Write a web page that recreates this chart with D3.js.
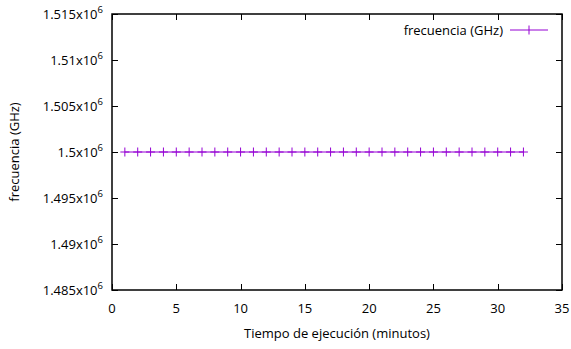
<!DOCTYPE html>
<html>
<head>
<meta charset="utf-8">
<script src="https://cdn.jsdelivr.net/npm/d3@7"></script>
<style>
  body { margin: 0; background: #fff; }
  text { font-family: "Open Sans", "Noto Sans", sans-serif; font-size: 13px; fill: #000; }
</style>
</head>
<body>
<svg width="571" height="349"></svg>
<script>
const minutes = d3.range(1, 33);
const freq = minutes.map(() => 1.5e6);
const xTicks = [0, 5, 10, 15, 20, 25, 30, 35];
const yTicks = [1.485e6, 1.49e6, 1.495e6, 1.5e6, 1.505e6, 1.51e6, 1.515e6];
const seriesName = 'frecuencia (GHz)';

const svg = d3.select('svg');
const width = +svg.attr('width');
const height = +svg.attr('height');
const margin = {top: 14, right: 9, bottom: 59, left: 112};
const innerWidth = width - margin.left - margin.right;
const innerHeight = height - margin.top - margin.bottom;
const color = '#9400d3';

const xScale = d3.scaleLinear().domain([0, 35]).range([0, innerWidth]);
const yScale = d3.scaleLinear().domain([1.485e6, 1.515e6]).range([innerHeight, 0]);

const g = svg.append('g')
  .attr('transform', `translate(${margin.left}, ${margin.top})`);

// tick marks, mirrored on all sides like gnuplot
const tickLen = 6;
const ticks = g.append('g').attr('stroke', '#000').attr('stroke-width', 1);
xTicks.forEach(t => {
  const x = Math.round(xScale(t)) + 0.5;
  ticks.append('line').attr('x1', x).attr('x2', x).attr('y1', innerHeight).attr('y2', innerHeight - tickLen);
  ticks.append('line').attr('x1', x).attr('x2', x).attr('y1', 0).attr('y2', tickLen);
});
yTicks.forEach(t => {
  const y = Math.round(yScale(t)) + 0.5;
  ticks.append('line').attr('x1', 0).attr('x2', tickLen).attr('y1', y).attr('y2', y);
  ticks.append('line').attr('x1', innerWidth).attr('x2', innerWidth - tickLen).attr('y1', y).attr('y2', y);
});

g.append('rect')
  .attr('x', 0).attr('y', 0)
  .attr('width', innerWidth).attr('height', innerHeight)
  .attr('fill', 'none').attr('stroke', '#000').attr('stroke-width', 1.5);

// tick labels
g.selectAll('.xlab').data(xTicks).enter().append('text')
  .attr('x', d => xScale(d))
  .attr('y', innerHeight + 23)
  .attr('text-anchor', 'middle')
  .text(d => d);

const yFmt = d => String(+(d / 1e6).toFixed(3));
const ylab = g.selectAll('.ylab').data(yTicks).enter().append('text')
  .attr('x', -9)
  .attr('y', d => yScale(d) + 5)
  .attr('text-anchor', 'end');
ylab.append('tspan').text(d => yFmt(d) + 'x10');
ylab.append('tspan').attr('dy', -6).style('font-size', '9.5px').text('6');

// axis titles
svg.append('text')
  .attr('x', margin.left + innerWidth / 2)
  .attr('y', 338)
  .attr('text-anchor', 'middle')
  .text('Tiempo de ejecución (minutos)');

svg.append('text')
  .attr('transform', `translate(19, ${margin.top + innerHeight / 2}) rotate(-90)`)
  .attr('text-anchor', 'middle')
  .text('frecuencia (GHz)');

// series
const line = d3.line()
  .x((d, i) => xScale(minutes[i]))
  .y(d => yScale(d));
g.append('path')
  .datum(freq)
  .attr('d', line)
  .attr('fill', 'none')
  .attr('stroke', color)
  .attr('stroke-width', 1);

const ps = 4.5;
const pts = g.append('g').attr('stroke', color).attr('stroke-width', 1);
freq.forEach((v, i) => {
  const x = xScale(minutes[i]);
  const y = yScale(v);
  pts.append('line').attr('x1', x).attr('x2', x).attr('y1', y - ps).attr('y2', y + ps);
  pts.append('line').attr('x1', x - ps).attr('x2', x + ps).attr('y1', y).attr('y2', y);
});

// legend
const leg = svg.append('g').attr('transform', `translate(0, 30)`);
leg.append('text')
  .attr('x', 503).attr('y', 5)
  .attr('text-anchor', 'end')
  .text(seriesName);
leg.append('line').attr('x1', 510).attr('x2', 548).attr('y1', 0).attr('y2', 0)
  .attr('stroke', color).attr('stroke-width', 1);
leg.append('line').attr('x1', 529).attr('x2', 529).attr('y1', -ps).attr('y2', ps)
  .attr('stroke', color).attr('stroke-width', 1);
</script>
</body>
</html>
